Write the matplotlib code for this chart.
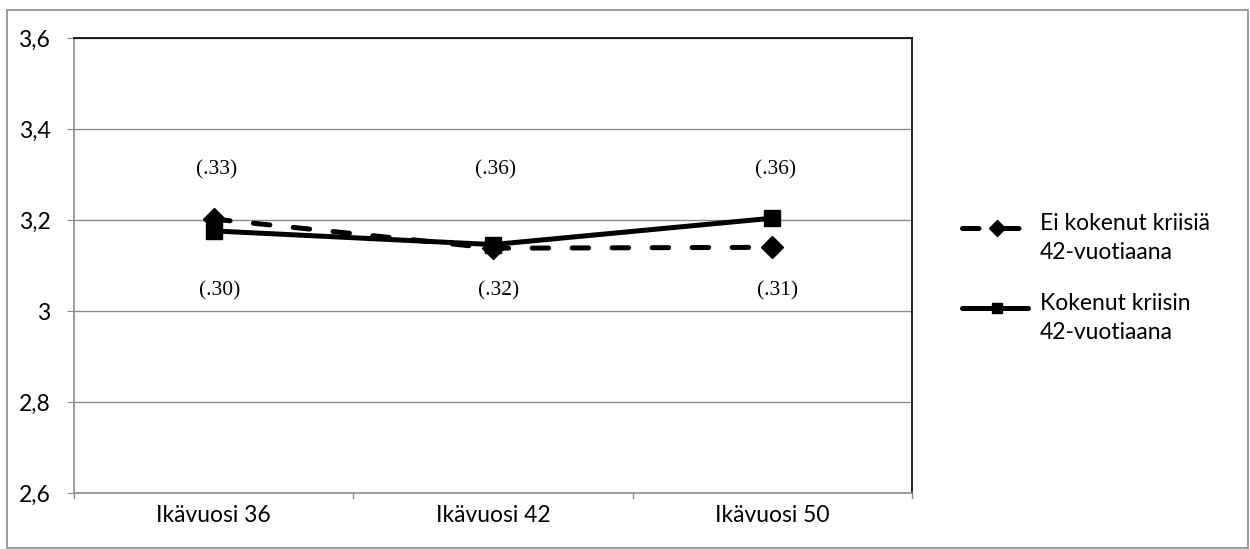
import matplotlib
matplotlib.use("Agg")
import matplotlib.pyplot as plt
from matplotlib.patches import Rectangle
from matplotlib.lines import Line2D

categories = ["Ikävuosi 36", "Ikävuosi 42", "Ikävuosi 50"]
series_names = ["Ei kokenut kriisiä\n42-vuotiaana", "Kokenut kriisin\n42-vuotiaana"]
no_crisis = [3.202, 3.138, 3.140]
crisis = [3.176, 3.146, 3.204]
sd_no_crisis = ["(.30)", "(.32)", "(.31)"]
sd_crisis = ["(.33)", "(.36)", "(.36)"]
yticks = [2.6, 2.8, 3.0, 3.2, 3.4, 3.6]
ytick_labels = ["2,6", "2,8", "3", "3,2", "3,4", "3,6"]

W, H = 1250, 549
SANS = "Lato"
FS = 16.5
fig = plt.figure(figsize=(W / 100, H / 100), dpi=100)
fig.patches.append(Rectangle((7 / W, 1 / H), (W - 9) / W, (H - 11) / H, transform=fig.transFigure,
                             fill=False, edgecolor="#8c8c8c", linewidth=1.2))

ax = fig.add_axes([74 / W, (H - 493) / H, (912 - 74) / W, (493 - 38) / H])
x = list(range(len(categories)))
ax.set_xlim(-0.5, 2.5)
ax.set_ylim(2.6, 3.6)

ax.set_yticks(yticks)
ax.set_yticklabels(ytick_labels, fontfamily=SANS, fontsize=FS)
ax.set_xticks(x)
ax.set_xticklabels(categories, fontfamily=SANS, fontsize=FS)
ax.tick_params(axis="x", length=0, pad=9)
ax.tick_params(axis="y", length=5, color="#8c8c8c", pad=12)
for t in [-0.5, 0.5, 1.5, 2.5]:
    ax.plot([t, t], [2.6, 2.588], color="#8c8c8c", lw=1, clip_on=False)

ax.yaxis.grid(True, color="#8c8c8c", lw=1)
ax.set_axisbelow(True)
for s in ["left", "bottom"]:
    ax.spines[s].set_color("#8c8c8c")
    ax.spines[s].set_linewidth(1.2)
for s in ["top", "right"]:
    ax.spines[s].set_color("black")
    ax.spines[s].set_linewidth(1.2)

LW = 3.6
ax.plot(x, no_crisis, color="black", lw=LW, linestyle=(0, (3.3, 4.7)), dash_capstyle="round",
        marker="D", markersize=11, zorder=3)
ax.plot(x, crisis, color="black", lw=LW, linestyle="-", marker="s",
        markersize=11, zorder=3)

for i in x:
    ax.text(i + 0.01, 3.31, sd_crisis[i], ha="center", va="center",
            fontfamily="Liberation Serif", fontsize=15.5)
    ax.text(i + 0.02, 3.045, sd_no_crisis[i], ha="center", va="center",
            fontfamily="Liberation Serif", fontsize=15.5)

# legend (handles aligned with first label line, as in the reference)
legend_specs = [
    (series_names[0], (0, (3.3, 4.7)), "D", 8, 228),
    (series_names[1], "-", "s", 7, 308),
]
for name, ls, mk, ms, ypix in legend_specs:
    yf = (H - ypix) / H
    fig.add_artist(Line2D([962 / W, 1028 / W], [yf, yf], transform=fig.transFigure,
                          color="black", lw=LW, linestyle=ls, dash_capstyle="round",
                          solid_capstyle="round"))
    fig.add_artist(Line2D([997 / W], [yf], transform=fig.transFigure, color="black",
                          marker=mk, markersize=ms, linestyle="none"))
    fig.text(1040 / W, (H - ypix + 15) / H, name, ha="left", va="top", fontfamily=SANS,
             fontsize=FS, linespacing=1.45, transform=fig.transFigure)

fig.savefig("out.png", dpi=100)
